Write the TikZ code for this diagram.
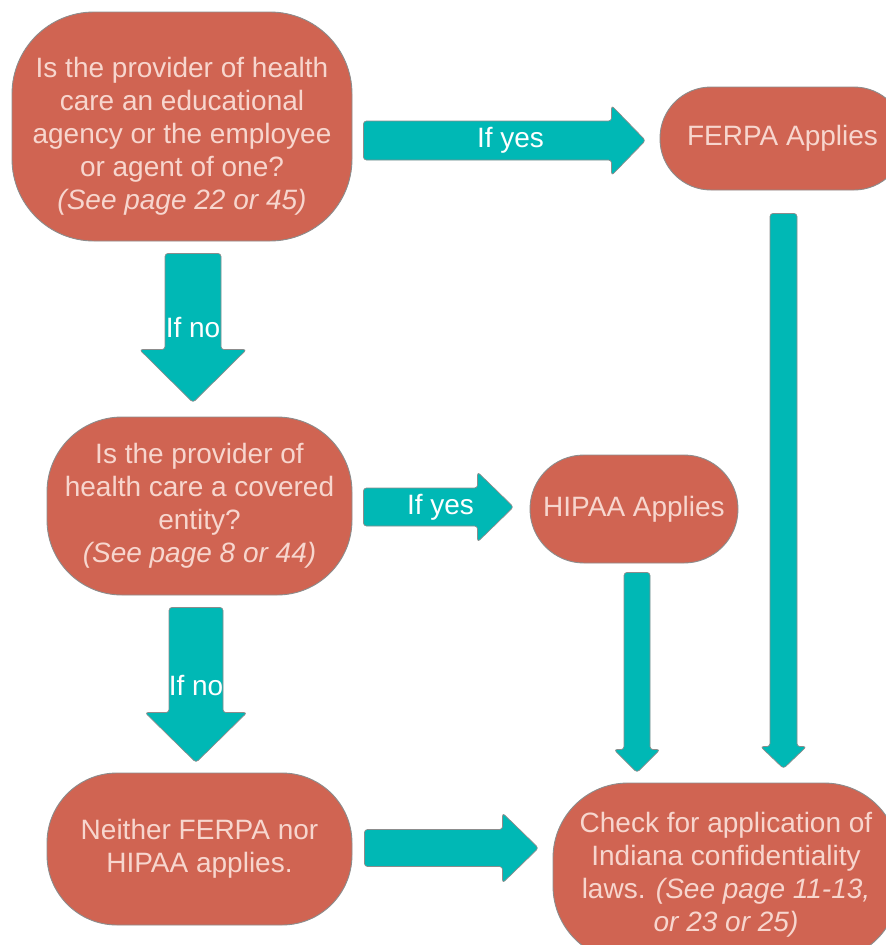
\documentclass[tikz,border=0pt]{standalone}
\usepackage{fontspec}
\setmainfont{Liberation Sans}
\usetikzlibrary{calc}

\definecolor{boxred}{HTML}{D06452}
\definecolor{boxtext}{HTML}{F7D6CE}
\definecolor{arrowteal}{HTML}{00B8B5}
\definecolor{edgegray}{HTML}{8C8C8C}

\tikzset{
  box/.style={draw=edgegray, line width=0.9pt, fill=boxred, text=boxtext, align=center,
    inner sep=0pt, font=\fontsize{28}{33}\selectfont},
  blockarrow/.style={draw=edgegray, line width=0.7pt, fill=arrowteal, rounded corners=3pt},
  armlabel/.style={text=white, inner sep=0pt, font=\fontsize{28}{33}\selectfont}
}

% #1 start, #2 tip, #3 half shaft, #4 half head, #5 head length
\newcommand{\rightblock}[5]{%
  \draw[blockarrow] let \p1=(#1), \p2=(#2) in
    (\x1,{\y1+#3pt}) -- ({\x2-#5pt},{\y1+#3pt}) -- ({\x2-#5pt},{\y1+#4pt})
    -- (\x2,\y1) -- ({\x2-#5pt},{\y1-#4pt}) -- ({\x2-#5pt},{\y1-#3pt})
    -- (\x1,{\y1-#3pt}) -- cycle;}
\newcommand{\downblock}[5]{%
  \draw[blockarrow] let \p1=(#1), \p2=(#2) in
    ({\x1-#3pt},\y1) -- ({\x1-#3pt},{\y2+#5pt}) -- ({\x1-#4pt},{\y2+#5pt})
    -- (\x1,\y2) -- ({\x1+#4pt},{\y2+#5pt}) -- ({\x1+#3pt},{\y2+#5pt})
    -- ({\x1+#3pt},\y1) -- cycle;}
% lowers the lines of a box without moving the box
\newcommand{\lowered}[2]{\raisebox{-#1}[\height][\depth]{\begin{tabular}{@{}c@{}}#2\end{tabular}}}

\begin{document}
\begin{tikzpicture}[x=1pt,y=-1pt]
\useasboundingbox (0,0) rectangle (886,945);
\clip (0,0) rectangle (886,945);

\node[box, minimum width=340pt, minimum height=229pt, rounded corners=82pt] (q1) at (182,126.5)
  {\lowered{10pt}{Is the provider of health\\care an educational\\agency or the employee\\or agent of one?\\\textit{(See page 22 or 45)}}};
\node[box, minimum width=245pt, minimum height=103pt, rounded corners=51pt] (ferpa) at (782.5,138.5)
  {FERPA Applies};
\node[box, minimum width=305pt, minimum height=178pt, rounded corners=75pt] (q2) at (199.5,506)
  {Is the provider of\\health care a covered\\entity?\\\textit{(See page 8 or 44)}};
\node[box, minimum width=208pt, minimum height=108pt, rounded corners=54pt] (hipaa) at (634,509)
  {HIPAA Applies};
\node[box, minimum width=305pt, minimum height=152pt, rounded corners=70pt] (neither) at (199.5,849)
  {Neither FERPA nor\\HIPAA applies.};
\node[box, minimum width=346pt, minimum height=178pt, rounded corners=75pt] (check) at (726,872)
  {\lowered{3pt}{Check for application of\\Indiana confidentiality\\laws. \textit{(See page 11-13,}\\\textit{or 23 or 25)}}};

%--------------------------------------------------------

\coordinate (s1) at ($(q1.east |- ferpa.west)+(11pt,-2pt)$);
\coordinate (t1) at ($(ferpa.west)+(-14pt,-2pt)$);
\coordinate (s2) at ($(q1.south)+(11pt,-12pt)$);
\coordinate (t2) at ($(s2 |- q2.north)+(0pt,14pt)$);
\coordinate (s3) at ($(q2.east |- hipaa.west)+(11pt,2pt)$);
\coordinate (t3) at ($(hipaa.west)+(-16pt,2pt)$);
\coordinate (s4) at ($(q2.south)+(-3.5pt,-12pt)$);
\coordinate (t4) at ($(s4 |- neither.north)+(0pt,10pt)$);
\coordinate (s5) at ($(neither.east)+(12pt,1pt)$);
\coordinate (t5) at ($(check.west |- s5)+(-14pt,0pt)$);
\coordinate (s6) at ($(hipaa.south)+(3pt,-9pt)$);
\coordinate (t6) at ($(s6 |- check.north)+(0pt,10pt)$);
\coordinate (s7) at ($(ferpa.south)+(1pt,-23pt)$);
\coordinate (t7) at ($(s7 |- check.north)+(0pt,14pt)$);

\rightblock{s1}{t1}{19.5}{35}{34}
\downblock{s2}{t2}{28}{53.5}{53}
\rightblock{s3}{t3}{19}{35}{36}
\downblock{s4}{t4}{27}{51}{50}
\rightblock{s5}{t5}{18.5}{35}{36}
\downblock{s6}{t6}{13}{23}{23}
\downblock{s7}{t7}{13.5}{23}{22}

\node[armlabel] (yes1) at ($(s1)!0.5!(t1)+(6pt,0pt)$) {If yes};
\node[armlabel] (no1) at ($(s2)!0.5!(t2)$) {If no};
\node[armlabel] (yes2) at ($(s3)!0.5!(t3)+(2pt,0pt)$) {If yes};
\node[armlabel] (no2) at ($(s4)!0.5!(t4)$) {If no};
\end{tikzpicture}
\end{document}
